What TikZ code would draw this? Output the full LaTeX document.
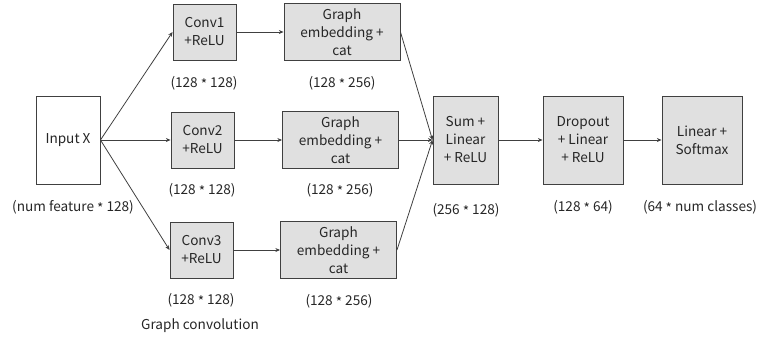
\documentclass[tikz,border=0pt]{standalone}
\usepackage{fontspec}
\setmainfont{Noto Sans CJK SC}
\usetikzlibrary{arrows.meta}

\newcommand{\tms}{\raisebox{-0.3ex}{*}}

\begin{document}
\begin{tikzpicture}[
    x=0.75pt, y=-0.75pt,
    every node/.style={font=\fontsize{10.2}{13.5}\selectfont, text=black!85},
    layer/.style={draw=black!75, line width=0.7pt, fill=black!12, inner sep=0pt, align=center},
    inbox/.style={layer, fill=white, minimum width=48pt, minimum height=66pt},
    convbox/.style={layer, minimum width=47.25pt, minimum height=42pt},
    embbox/.style={layer, minimum width=87pt, minimum height=42.75pt},
    bigbox/.style={layer, minimum width=#1, minimum height=66pt},
    flow/.style={draw=black!75, line width=0.6pt, -{Stealth[length=3.5pt, width=3pt]}}
]
\useasboundingbox (0,0) rectangle (760,337);

% input
\node[inbox] (inp) at (68,140) {Input X};
\node (inpdim) at (73,207) {(num feature \tms\ 128)};

% three graph convolution branches
\node[convbox] (conv1) at (204.5,32) {Conv1\\+ReLU};
\node[convbox] (conv2) at (202.5,140) {Conv2\\+ReLU};
\node[convbox] (conv3) at (201.5,250) {Conv3\\+ReLU};
\node (convdim1) at (204,83) {(128 \tms\ 128)};
\node (convdim2) at (202,190) {(128 \tms\ 128)};
\node (convdim3) at (201,300) {(128 \tms\ 128)};
\node (convname) at (200,326) {Graph convolution};

\node[embbox] (emb1) at (342,32) {Graph\\embedding +\\cat};
\node[embbox] (emb2) at (340.5,140) {Graph\\embedding +\\cat};
\node[embbox] (emb3) at (338.5,250) {Graph\\embedding +\\cat};
\node (embdim1) at (342,83) {(128 \tms\ 256)};
\node (embdim2) at (340,190) {(128 \tms\ 256)};
\node (embdim3) at (339,301) {(128 \tms\ 256)};

% readout
\node[bigbox=48.75pt] (sum) at (465.5,140) {Sum +\\Linear\\+ ReLU};
\node[bigbox=60pt] (drop) at (583,140) {Dropout\\+ Linear\\+ ReLU};
\node[bigbox=60pt] (out) at (702,140) {Linear +\\Softmax};
\node (sumdim) at (466,210) {(256 \tms\ 128)};
\node (dropdim) at (583,207) {(128 \tms\ 64)};
\node (outdim) at (700,207) {(64 \tms\ num classes)};

\foreach \i in {1,2,3} {
    \draw[flow] (inp.east) -- (conv\i.west);
    \draw[flow] (conv\i) -- (emb\i);
    \draw[flow] (emb\i.east) -- (sum.west);
}
\draw[flow] (sum) -- (drop);
\draw[flow] (drop) -- (out);
\end{tikzpicture}
\end{document}
